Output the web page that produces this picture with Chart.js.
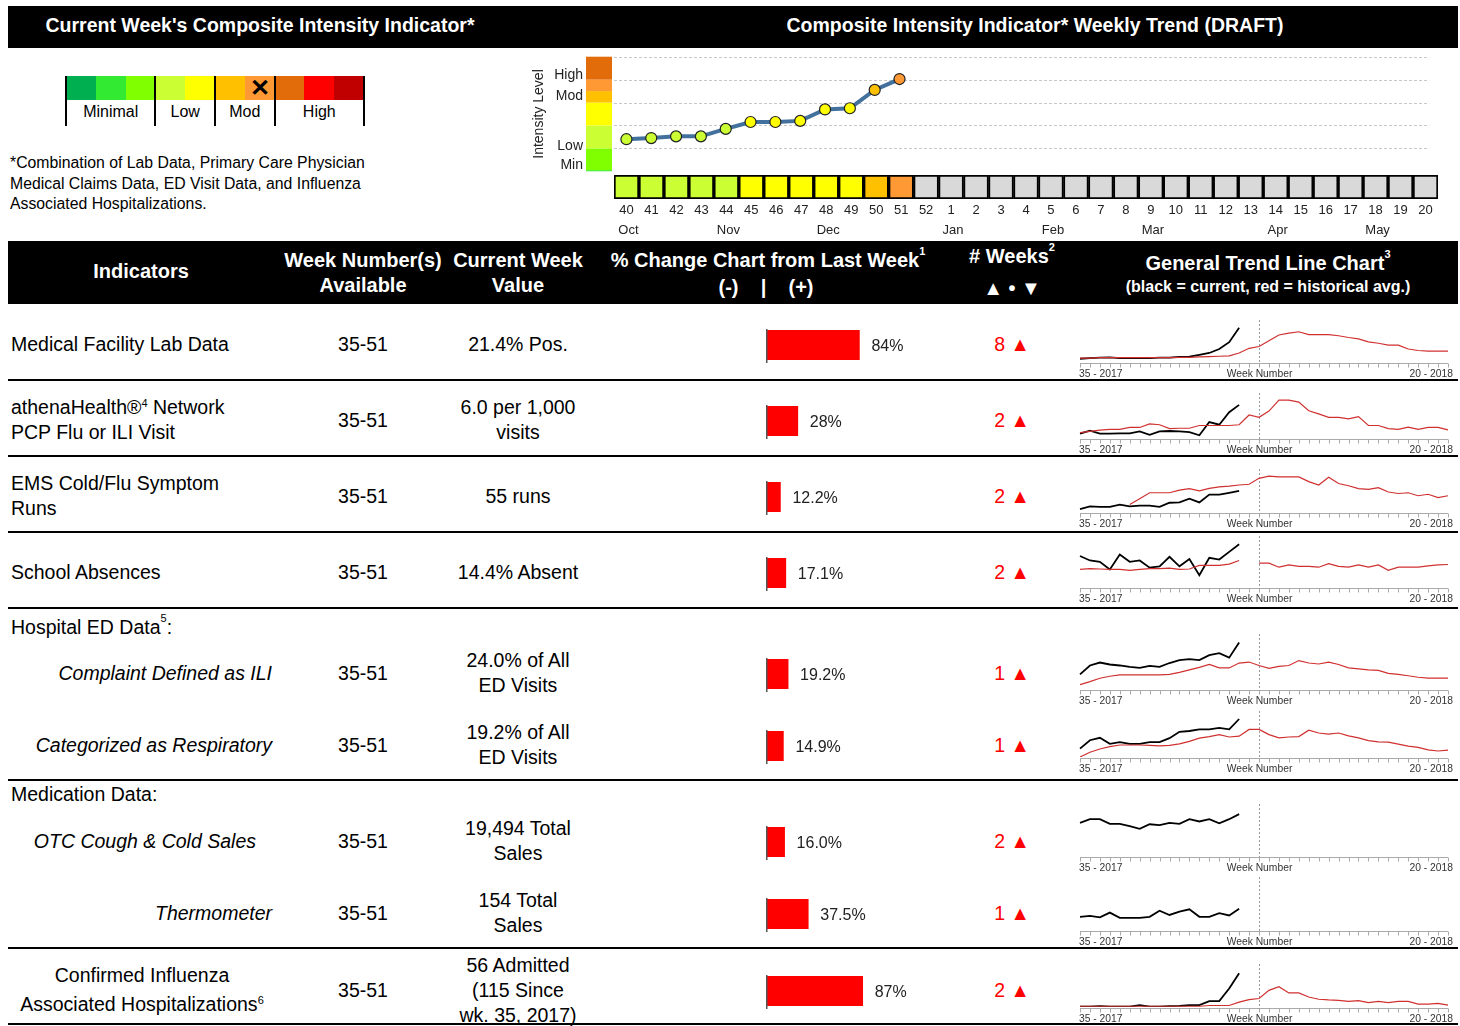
<!DOCTYPE html>
<html>
<head>
<meta charset="utf-8">
<script src="https://cdn.jsdelivr.net/npm/chart.js@4"></script>
<style>
  body { margin:0; width:1460px; height:1026px; position:relative; background:#fff; font-family:"Liberation Sans", Arial, sans-serif; overflow:hidden; }
  .abs { position:absolute; }
  .bar { background:#000; color:#fff; font-weight:bold; }
  .c { text-align:center; transform:translateX(-50%); white-space:nowrap; }
  .t18 { font-size:19.5px; line-height:25px; }
  .rule { position:absolute; left:8px; width:1450px; height:2px; background:#000; }
  .wk { color:#f00; font-size:19.5px; }
  .hd { color:#fff; font-weight:bold; font-size:20px; }
  canvas { position:absolute; }
  sup { font-size:11px; vertical-align:top; position:relative; top:-4px; }
</style>
</head>
<body>
<!-- top headers -->
<div class="abs bar" style="left:8px;top:6px;width:1450px;height:42px;"></div>
<div class="abs c hd" style="left:260px;top:14px;font-size:19.5px;">Current Week's Composite Intensity Indicator*</div>
<div class="abs c hd" style="left:1035px;top:14px;font-size:19.5px;">Composite Intensity Indicator* Weekly Trend (DRAFT)</div>

<div id="legend" class="abs" style="left:66px;top:76px;width:298px;height:50px;"></div>
<div class="abs" style="left:10px;top:153px;font-size:15.8px;line-height:20.5px;">*Combination of Lab Data, Primary Care Physician<br>Medical Claims Data, ED Visit Data, and Influenza<br>Associated Hospitalizations.</div>

<canvas id="trend" style="left:520px;top:50px;width:920px;height:128px;"></canvas>
<canvas id="strip" style="left:612px;top:172px;width:828px;height:68px;"></canvas>

<!-- table header -->
<div class="abs bar" style="left:8px;top:241px;width:1450px;height:63px;"></div>
<div class="abs c hd" style="left:141px;top:260px;">Indicators</div>
<div class="abs c hd" style="left:363px;top:248px;line-height:25px;text-align:center;">Week Number(s)<br>Available</div>
<div class="abs c hd" style="left:518px;top:248px;line-height:25px;text-align:center;">Current Week<br>Value</div>
<div class="abs c hd" style="left:768px;top:249px;">% Change Chart from Last Week<sup>1</sup></div>
<div class="abs c hd" style="left:766px;top:276px;">(-)&nbsp;&nbsp;&nbsp;&nbsp;|&nbsp;&nbsp;&nbsp;&nbsp;(+)</div>
<div class="abs c hd" style="left:1012px;top:245px;"># Weeks<sup>2</sup></div>
<div class="abs c hd" style="left:1012px;top:277px;">▲ • ▼</div>
<div class="abs c hd" style="left:1268px;top:252px;">General Trend Line Chart<sup>3</sup></div>
<div class="abs c hd" style="left:1268px;top:278px;font-size:16px;">(black = current, red = historical avg.)</div>

<div id="rows"></div>

<script>
// ---- composite intensity trend ----
const weeks = [40,41,42,43,44,45,46,47,48,49,50,51,52,1,2,3,4,5,6,7,8,9,10,11,12,13,14,15,16,17,18,19,20];
const monthLabels = {40:'Oct',44:'Nov',48:'Dec',1:'Jan',5:'Feb',9:'Mar',14:'Apr',18:'May'};
const intensity = [2.8,2.9,3.05,3.05,3.7,4.3,4.3,4.4,5.4,5.5,7.1,8.05];
const cellColors = ['#ccff33','#ccff33','#ccff33','#ccff33','#ccff33','#ffff00','#ffff00','#ffff00','#ffff00','#ffff00','#ffc000','#ff9933'];
const levelBands = [[0,0.1,'#33ea33'],[0.1,2,'#80ff00'],[2,4,'#ccff33'],[4,6,'#ffff00'],[6,7,'#ffc000'],[7,8,'#ff9933'],[8,10,'#e36c0a']];
const levelLabels = [['High',8.4],['Mod',6.6],['Low',2.2],['Min',0.5]];

// ---- legend scale ----
const legendGroups = [['Minimal',['#00b050','#33ea33','#80ff00']],['Low',['#ccff33','#ffff00']],['Mod',['#ffc000','#ff9933']],['High',['#e36c0a','#ff0000','#c00000']]];
const legendMark = 6;

// ---- table ----
const indicators = ['Medical Facility Lab Data','athenaHealth®<sup>4</sup> Network<br>PCP Flu or ILI Visit','EMS Cold/Flu Symptom<br>Runs','School Absences',
  'Complaint Defined as ILI','Categorized as Respiratory','OTC Cough &amp; Cold Sales','Thermometer','Confirmed Influenza<br>Associated Hospitalizations<sup>6</sup>'];
const currentValues = ['21.4% Pos.','6.0 per 1,000<br>visits','55 runs','14.4% Absent','24.0% of All<br>ED Visits','19.2% of All<br>ED Visits','19,494 Total<br>Sales','154 Total<br>Sales','56 Admitted<br>(115 Since<br>wk. 35, 2017)'];
const weekRanges = ['35-51','35-51','35-51','35-51','35-51','35-51','35-51','35-51','35-51'];
const pctChange = [84,28,12.2,17.1,19.2,14.9,16.0,37.5,87];
const pctText = ['84%','28%','12.2%','17.1%','19.2%','14.9%','16.0%','37.5%','87%'];
const weeksUp = [8,2,2,2,1,1,2,1,2];

const sparkWeeks = [35,36,37,38,39,40,41,42,43,44,45,46,47,48,49,50,51,52,1,2,3,4,5,6,7,8,9,10,11,12,13,14,15,16,17,18,19,20];
const currLab = [9,11,12,13,11,11,11,11,12,12,14,15,20,25,36,55,95];
const histLab = [11,11,12,12,12,12,12,12,12,12,13,13,14,15,16,17,25,38,43,59,75,80,84,76,76,76,73,68,64,56,52,47,47,36,32,30,30,30];
const currAthena = [11,19,11,11,12,12,17,8,17,18,17,15,7,41,34,66,85];
const histAthena = [14,17,20,22,22,27,27,36,34,24,25,25,32,32,32,32,34,59,53,69,97,97,92,70,62,53,53,49,55,32,32,24,22,28,22,27,27,21];
const currEms = [8,15,14,14,20,15,17,17,14,25,26,36,26,47,47,52,57];
const histEms = [null,null,null,null,null,20,36,52,52,52,59,63,57,64,68,70,73,75,91,97,95,95,95,82,73,94,77,71,63,61,66,54,50,52,44,48,39,44];
const currSchool = [69,59,56,39,72,56,59,43,46,67,46,62,26,65,61,78,95];
const histSchool = [39,41,40,39,39,37,39,41,41,42,39,40,48,48,48,51,59,null,53,53,44,49,46,46,44,52,46,44,49,44,49,37,44,44,44,47,49,50];
const currIli = [30,48,54,50,48,45,43,47,45,53,59,61,59,69,73,64,95];
const histIli = [9,15,22,26,29,29,29,29,29,30,34,39,44,50,43,43,53,55,48,42,46,48,58,53,51,55,50,43,41,39,38,32,30,27,24,22,22,22];
const currResp = [21,42,48,33,37,33,33,37,37,47,63,65,69,69,73,69,95];
const histResp = [0,12,20,26,30,30,30,29,28,29,33,39,47,51,56,50,52,69,69,56,48,50,51,67,60,57,60,53,48,41,38,37,32,27,24,18,15,17];
const currOtc = [72,80,80,70,70,65,59,69,67,72,70,80,75,80,71,80,91];
const currThermo = [28,30,27,37,26,26,26,28,41,32,39,44,28,28,36,31,45];
const currHosp = [1,1,2,1,1,1,5,1,1,2,3,5,5,16,16,50,91];
const histHosp = [2,2,2,2,2,2,2,2,2,2,2,2,2,4,4,4,13,20,23,45,55,38,38,27,21,19,18,15,17,12,15,12,15,15,8,8,10,5];

const sparkCurr = [currLab,currAthena,currEms,currSchool,currIli,currResp,currOtc,currThermo,currHosp];
const sparkHist = [histLab,histAthena,histEms,histSchool,histIli,histResp,null,null,histHosp];

// layout of rows (px)
const rowCenter = [344,420,496,572,673,745,841,913,990];
const indentLeft = [11,11,11,11,null,null,null,null,null];
const indentRight = [null,null,null,null,272,272,256,272,null];
const sparkBase = [362,438,512,587,689,757,856,930,1007];
const sparkH = [36,39,37,45,49,40,46,47,37];
const ruleY = [379,455,531,607,779,947,1023];

const FONT = '"Liberation Sans", Arial, sans-serif';

// legend
(function(){
  const el = document.getElementById('legend');
  let x = 0;
  let cell = 0;
  legendGroups.forEach(([name, cols]) => {
    const w = cols.length * 29.8;
    cols.forEach((c, i) => {
      const d = document.createElement('div');
      d.className = 'abs';
      d.style.cssText = `left:${x + i*29.8}px;top:0;width:29.8px;height:24px;background:${c};`;
      if (cell === legendMark) d.innerHTML = '<div style="text-align:center;font-size:24px;line-height:24px;font-weight:bold;">✕</div>';
      el.appendChild(d);
      cell++;
    });
    const lab = document.createElement('div');
    lab.className = 'abs c';
    lab.style.cssText = `left:${x + w/2}px;top:27px;font-size:16px;`;
    lab.textContent = name;
    el.appendChild(lab);
    const ln = document.createElement('div');
    ln.className = 'abs';
    ln.style.cssText = `left:${x-1}px;top:0;width:2px;height:50px;background:#000;`;
    el.appendChild(ln);
    x += w;
  });
  const ln = document.createElement('div');
  ln.className = 'abs';
  ln.style.cssText = `left:${x-1}px;top:0;width:2px;height:50px;background:#000;`;
  el.appendChild(ln);
})();

// trend line chart
new Chart(document.getElementById('trend'), {
  type: 'line',
  data: { labels: weeks, datasets: [{
    data: intensity, borderColor: '#41719c', borderWidth: 4,
    pointBackgroundColor: cellColors, pointBorderColor: '#222', pointBorderWidth: 1.2, pointRadius: 5.5
  }]},
  options: {
    responsive: false, animation: false,
    layout: { padding: { left: 94, top: 5, bottom: 5, right: 0 } },
    plugins: { legend: { display: false }, tooltip: { enabled: false } },
    scales: {
      x: { display: false, offset: true },
      y: { display: false, min: 0, max: 10 }
    }
  },
  plugins: [{
    id: 'bands',
    beforeDatasetsDraw(chart) {
      const { ctx, chartArea, scales: { y } } = chart;
      ctx.save();
      ctx.strokeStyle = '#c8c8c8'; ctx.lineWidth = 1; ctx.setLineDash([3, 2]);
      [2,4,6,8,10].forEach(v => {
        const py = Math.round(y.getPixelForValue(v)) + 0.5;
        ctx.beginPath(); ctx.moveTo(chartArea.left, py); ctx.lineTo(chartArea.right - 4, py); ctx.stroke();
      });
      ctx.setLineDash([]);
      levelBands.forEach(([a, b, c]) => {
        ctx.fillStyle = c;
        const y1 = y.getPixelForValue(b), y0 = y.getPixelForValue(a);
        ctx.fillRect(chartArea.left - 28, y1, 26, y0 - y1);
      });
      ctx.fillStyle = '#222'; ctx.font = '14px ' + FONT; ctx.textAlign = 'right'; ctx.textBaseline = 'middle';
      levelLabels.forEach(([t, v]) => ctx.fillText(t, chartArea.left - 31, y.getPixelForValue(v)));
      ctx.translate(19, (chartArea.top + chartArea.bottom) / 2);
      ctx.rotate(-Math.PI / 2); ctx.textAlign = 'center';
      ctx.fillText('Intensity Level', 0, 0);
      ctx.restore();
    }
  }]
});

// weekly colour strip
new Chart(document.getElementById('strip'), {
  type: 'bar',
  data: { labels: weeks, datasets: [{
    data: weeks.map(() => 1),
    backgroundColor: weeks.map((w, i) => cellColors[i] || '#d9d9d9'),
    borderColor: '#000', borderWidth: 2, borderSkipped: false,
    barPercentage: 1, categoryPercentage: 1
  }]},
  options: {
    responsive: false, animation: false,
    layout: { padding: { left: 2, right: 2, top: 3, bottom: 41 } },
    plugins: { legend: { display: false }, tooltip: { enabled: false } },
    scales: { x: { display: false }, y: { display: false, min: 0, max: 1 } }
  },
  plugins: [{
    id: 'weekLabels',
    afterDraw(chart) {
      const { ctx, chartArea, scales: { x } } = chart;
      ctx.save();
      ctx.fillStyle = '#222'; ctx.font = '13px ' + FONT; ctx.textAlign = 'center'; ctx.textBaseline = 'middle';
      weeks.forEach((w, i) => {
        const px = x.getPixelForValue(i);
        ctx.fillText(String(w), px, chartArea.bottom + 11);
        if (monthLabels[w]) ctx.fillText(monthLabels[w], px + 2, chartArea.bottom + 31);
      });
      ctx.restore();
    }
  }]
});

// table rows
const rowsEl = document.getElementById('rows');
function addDiv(html, css, cls) {
  const d = document.createElement('div');
  d.className = 'abs ' + (cls || '');
  d.style.cssText = css;
  d.innerHTML = html;
  rowsEl.appendChild(d);
  return d;
}
ruleY.forEach(y => addDiv('', `top:${y}px;`, 'rule'));
addDiv('Hospital ED Data<sup>5</sup>:', 'left:11px;top:616px;font-size:19.5px;');
addDiv('Medication Data:', 'left:11px;top:783px;font-size:19.5px;');

indicators.forEach((name, i) => {
  const lines = currentValues[i].split('<br>').length;
  const nameLines = name.split('<br>').length;
  const italic = i >= 4 && i <= 7 ? 'font-style:italic;' : '';
  if (indentLeft[i] != null) {
    addDiv(name, `left:${indentLeft[i]}px;top:${rowCenter[i] - nameLines*12.5}px;${italic}`, 't18');
  } else if (indentRight[i] != null) {
    addDiv(name, `right:${1460 - indentRight[i]}px;top:${rowCenter[i] - 12.5}px;text-align:right;white-space:nowrap;${italic}`, 't18');
  } else {
    addDiv(name, `left:142px;top:${rowCenter[i] - 29}px;text-align:center;line-height:29px;`, 't18 c');
  }
  addDiv(weekRanges[i], `left:363px;top:${rowCenter[i] - 12.5}px;`, 't18 c');
  addDiv(currentValues[i], `left:518px;top:${rowCenter[i] - lines*12.5}px;text-align:center;`, 't18 c');
  addDiv(weeksUp[i] + ' ▲', `left:1012px;top:${rowCenter[i] - 12.5}px;`, 't18 c wk');

  // % change bar
  const cv = document.createElement('canvas');
  cv.style.cssText = `left:757px;top:${rowCenter[i] - 17}px;width:260px;height:36px;`;
  rowsEl.appendChild(cv);
  new Chart(cv, {
    type: 'bar',
    data: { labels: [''], datasets: [{ data: [pctChange[i]], backgroundColor: '#ff0000', barPercentage: 1, categoryPercentage: 1 }] },
    options: {
      indexAxis: 'y', responsive: false, animation: false,
      layout: { padding: { left: 10, right: 30, top: 3, bottom: 3 } },
      plugins: { legend: { display: false }, tooltip: { enabled: false } },
      scales: { x: { display: false, min: 0, max: 200 }, y: { display: false } }
    },
    plugins: [{
      id: 'pctLabel',
      afterDraw(chart) {
        const { ctx, chartArea, scales: { x } } = chart;
        ctx.save();
        ctx.fillStyle = '#555';
        ctx.fillRect(x.getPixelForValue(0) - 1, chartArea.top - 1, 1.5, chartArea.bottom - chartArea.top + 4);
        ctx.fillStyle = '#222'; ctx.font = '16px ' + FONT; ctx.textBaseline = 'middle';
        ctx.fillText(pctText[i], x.getPixelForValue(pctChange[i]) + 12, (chartArea.top + chartArea.bottom) / 2 + 2);
        ctx.restore();
      }
    }]
  });

  // sparkline
  const sp = document.createElement('canvas');
  const top = sparkBase[i] - sparkH[i] - 6;
  sp.style.cssText = `left:1078px;top:${top}px;width:380px;height:${sparkH[i] + 6 + 18}px;`;
  rowsEl.appendChild(sp);
  const ds = [];
  if (sparkHist[i]) ds.push({ data: sparkHist[i], borderColor: '#d03030', borderWidth: 1.2, pointRadius: 0, spanGaps: false });
  ds.push({ data: sparkCurr[i], borderColor: '#000', borderWidth: 1.8, pointRadius: 0 });
  new Chart(sp, {
    type: 'line',
    data: { labels: sparkWeeks, datasets: ds },
    options: {
      responsive: false, animation: false,
      layout: { padding: { left: 2, right: 10, top: 6, bottom: 18 } },
      plugins: { legend: { display: false }, tooltip: { enabled: false } },
      scales: { x: { display: false }, y: { display: false, min: 0, max: 100 } }
    },
    plugins: [{
      id: 'sparkAxis',
      beforeDatasetsDraw(chart) {
        const { ctx, chartArea, scales: { x } } = chart;
        const b = chartArea.bottom + 1.5;
        ctx.save();
        ctx.strokeStyle = '#aaa'; ctx.lineWidth = 1;
        ctx.beginPath(); ctx.moveTo(chartArea.left, b); ctx.lineTo(chartArea.right, b); ctx.stroke();
        sparkWeeks.forEach((w, k) => {
          const px = Math.round(x.getPixelForValue(k)) + 0.5;
          ctx.beginPath(); ctx.moveTo(px, b); ctx.lineTo(px, b + 4); ctx.stroke();
        });
        const dx = Math.round(x.getPixelForValue(sparkWeeks.indexOf(1))) + 0.5;
        ctx.setLineDash([2, 2]); ctx.strokeStyle = '#999';
        ctx.beginPath(); ctx.moveTo(dx, 0); ctx.lineTo(dx, b); ctx.stroke();
        ctx.setLineDash([]);
        ctx.fillStyle = '#333'; ctx.font = '10.3px ' + FONT; ctx.textBaseline = 'middle';
        ctx.textAlign = 'left'; ctx.fillText('35 - 2017', chartArea.left - 1, b + 11);
        ctx.textAlign = 'center'; ctx.fillText('Week Number', dx, b + 11);
        ctx.textAlign = 'right'; ctx.fillText('20 - 2018', chartArea.right + 5, b + 11);
        ctx.restore();
      }
    }]
  });
});
</script>
</body>
</html>
